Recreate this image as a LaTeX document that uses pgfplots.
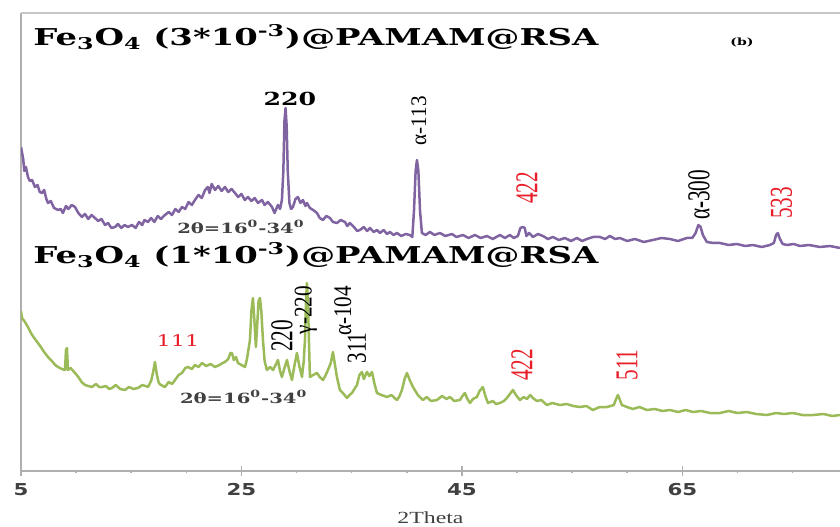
\documentclass[border=0pt]{standalone}
\usepackage{fontspec}
\setmainfont{Liberation Serif}
\newfontfamily\titlefont{DejaVu Serif}[FakeStretch=1.46]
\newfontfamily\smallfont{DejaVu Serif}[FakeStretch=1.4]
\newfontfamily\tickfont{DejaVu Sans}[FakeStretch=1.3]
\newfontfamily\xlabfont{Liberation Serif}[FakeStretch=1.4]
\usepackage{pgfplots}
\pgfplotsset{compat=1.18}
\definecolor{xpurple}{RGB}{128,100,162}
\definecolor{xgreen}{RGB}{155,187,89}
\definecolor{xred}{RGB}{232,30,40}
\definecolor{axgray}{RGB}{175,175,175}
\definecolor{txtgray}{RGB}{64,64,64}
\newcommand{\rlab}[2]{\rotatebox{90}{\scalebox{1}[#1]{#2}}}
\begin{document}
\begin{tikzpicture}
\begin{axis}[
  at={(10.5pt,27.5pt)}, anchor=south west,
  scale only axis, width=409.5pt, height=229pt,
  xmin=5, xmax=79.3, ymin=0, ymax=458,
  axis x line*=bottom, axis y line*=left,
  axis line style={-, axgray, line width=0.8pt},
  ytick=\empty,
  xtick={5,25,45,65},
  minor xtick={10,15,20,30,35,40,50,55,60,70,75},
  tick align=center,
  major tick length=5pt, minor tick length=1.5pt,
  tick style={axgray, line width=0.8pt},
  /pgf/number format/assume math mode=true,
  xticklabel style={font=\tickfont\bfseries\fontsize{8.2}{9}\selectfont, text=txtgray},
  xlabel={2Theta},
  xlabel style={font=\xlabfont\fontsize{8.5}{10}\selectfont, text=txtgray, yshift=-1pt},
]
\draw[axgray!70, line width=1pt] (rel axis cs:0,1) -- (rel axis cs:1,1);
\addplot[xpurple, line width=1.25pt, line join=round] coordinates {
(5.0,324)(5.1,318)(5.2,312)(5.3,300)(5.45,304)(5.63,294)(5.8,290)(6.0,291)(6.27,284)(6.5,286)(6.7,279)(6.9,278)(7.1,281)(7.3,272)(7.45,268)(7.7,270)(8.0,263)(8.36,261)(8.6,262)(8.8,258)(9.08,265)(9.3,262)(9.6,266)(9.9,264)(10.2,258)(10.53,254)(10.8,257)(11.1,252)(11.4,256)(11.71,253)(12.0,250)(12.3,252)(12.62,246)(12.9,248)(13.2,243)(13.53,244)(13.8,247)(14.1,243)(14.4,246)(14.7,244)(15.07,246)(15.4,243)(15.7,249)(16.0,246)(16.2,251)(16.52,249)(16.8,253)(17.1,249)(17.4,255)(17.7,252)(18.06,256)(18.4,259)(18.7,256)(19.0,262)(19.3,259)(19.6,264)(19.9,262)(20.2,269)(20.5,266)(20.78,271)(21.1,276)(21.4,273)(21.7,281)(21.96,284)(22.1,278)(22.3,287)(22.6,281)(22.9,285)(23.2,280)(23.5,284)(23.8,279)(24.1,282)(24.41,278)(24.7,274)(25.0,277)(25.3,271)(25.59,274)(25.9,270)(26.2,273)(26.5,268)(26.86,271)(27.1,266)(27.4,269)(27.77,264)(28.0,258)(28.31,266)(28.5,262)(28.67,271)(28.8,300)(28.9,350)(29.0,363)(29.1,345)(29.2,300)(29.35,268)(29.5,262)(29.67,264)(29.9,272)(30.12,274)(30.35,268)(30.58,271)(30.8,265)(30.94,268)(31.21,263)(31.5,261)(31.85,258)(32.1,253)(32.39,251)(32.7,255)(33.03,253)(33.3,249)(33.66,248)(34.0,251)(34.39,249)(34.6,245)(34.84,248)(35.2,244)(35.5,240)(35.75,241)(36.1,244)(36.4,240)(36.66,243)(37.0,239)(37.3,241)(37.56,238)(37.9,241)(38.2,237)(38.47,239)(38.8,236)(39.1,238)(39.5,235)(39.9,237)(40.28,236)(40.5,234)(40.65,260)(40.8,300)(40.92,311)(41.05,300)(41.2,260)(41.37,238)(41.7,236)(42.1,239)(42.5,236)(43.0,238)(43.5,235)(44.09,237)(44.5,234)(45.09,236)(45.6,233)(46.18,236)(46.7,233)(47.27,235)(47.8,232)(48.45,236)(48.9,233)(49.35,236)(49.7,233)(50.08,235)(50.3,243)(50.53,244)(50.7,243)(50.85,235)(51.1,238)(51.44,234)(51.9,237)(52.35,235)(52.8,232)(53.25,234)(53.8,231)(54.34,233)(54.9,230)(55.43,233)(55.9,230)(56.34,232)(56.9,234)(57.52,234)(58.0,232)(58.42,235)(58.9,232)(59.33,233)(60.0,230)(60.69,232)(61.5,229)(62.32,231)(63.1,233)(63.87,232)(64.6,230)(65.41,233)(65.9,233)(66.2,238)(66.45,246)(66.65,244)(66.86,236)(67.22,229)(67.8,228)(68.4,228)(69.2,226)(69.94,227)(70.7,225)(71.39,226)(72.2,224)(72.94,226)(73.3,228)(73.5,236)(73.66,238)(73.85,232)(74.1,227)(74.48,226)(75.1,227)(75.66,225)(76.5,226)(77.47,224)(78.4,225)(79.29,223)
};
\addplot[xgreen, line width=1.25pt, line join=round] coordinates {
(5.0,160)(5.09,153)(5.3,150)(5.63,144)(5.9,138)(6.2,133)(6.54,128)(6.8,124)(7.1,119)(7.45,114)(7.8,110)(8.1,106)(8.36,104)(8.7,102)(8.99,101)(9.08,121)(9.17,123)(9.26,101)(9.5,103)(9.9,98)(10.2,94)(10.5,89)(10.8,86)(11.1,85)(11.44,84)(11.8,87)(12.1,84)(12.35,84)(12.7,85)(13.0,82)(13.25,83)(13.6,86)(14.0,82)(14.43,81)(14.8,84)(15.2,82)(15.61,83)(16.0,86)(16.3,85)(16.52,84)(16.8,90)(16.97,98)(17.15,109)(17.33,96)(17.5,88)(17.7,86)(18.06,84)(18.4,89)(18.7,87)(18.97,91)(19.3,96)(19.6,98)(19.9,103)(20.15,104)(20.5,102)(20.78,106)(21.1,104)(21.42,108)(21.8,105)(22.2,107)(22.6,104)(23.0,106)(23.3,108)(23.5,109)(23.8,112)(24.0,118)(24.14,118)(24.3,111)(24.5,114)(24.68,108)(25.0,106)(25.32,104)(25.5,112)(25.77,131)(25.9,160)(26.04,173)(26.15,155)(26.31,124)(26.45,150)(26.55,170)(26.68,173)(26.8,160)(26.95,131)(27.1,110)(27.31,101)(27.6,104)(27.86,101)(28.1,106)(28.31,111)(28.5,100)(28.67,94)(28.9,103)(29.13,111)(29.35,100)(29.58,91)(29.8,105)(30.03,118)(30.25,105)(30.49,94)(30.65,110)(30.76,131)(30.85,170)(30.94,188)(31.03,170)(31.12,131)(31.21,94)(31.5,96)(31.85,98)(32.1,94)(32.39,91)(32.6,95)(32.85,101)(33.1,108)(33.3,119)(33.5,105)(33.66,94)(33.93,81)(34.2,78)(34.57,73)(34.8,76)(35.02,78)(35.25,82)(35.48,86)(35.7,96)(35.93,99)(36.1,92)(36.38,99)(36.6,95)(36.84,99)(37.05,88)(37.29,78)(37.7,76)(38.2,74)(38.6,76)(39.1,71)(39.3,74)(39.56,81)(39.8,92)(40.01,98)(40.3,90)(40.56,84)(41.0,76)(41.46,71)(41.8,74)(42.2,70)(42.73,71)(43.2,75)(43.6,72)(43.91,74)(44.3,70)(44.82,71)(45.05,75)(45.27,78)(45.5,72)(45.73,68)(46.0,72)(46.36,74)(46.6,80)(46.9,84)(47.1,76)(47.36,68)(47.8,70)(48.1,67)(48.45,68)(48.8,70)(49.08,73)(49.35,77)(49.63,81)(49.9,76)(50.26,71)(50.6,74)(50.9,72)(51.2,76)(51.44,73)(51.8,70)(52.2,71)(52.71,66)(53.2,68)(53.89,66)(54.5,67)(55.1,65)(55.7,64)(56.3,65)(56.88,61)(57.5,64)(58.15,64)(58.5,65)(58.78,66)(58.95,71)(59.15,76)(59.3,72)(59.51,66)(59.97,64)(60.5,62)(61.1,64)(61.78,61)(62.5,62)(63.2,60)(63.87,61)(64.6,59)(65.3,61)(65.95,59)(66.7,60)(67.5,58)(68.4,58)(69.2,60)(70.0,58)(70.85,59)(71.7,57)(72.67,56)(73.5,58)(74.2,57)(75.02,58)(75.9,56)(76.84,56)(77.8,57)(78.6,55)(79.29,56)
};
% titles
\node[font=\titlefont\bfseries\fontsize{11.6}{13}\selectfont, anchor=west, inner sep=0pt] at (axis cs:6.09,434) {Fe\textsubscript{3}O\textsubscript{4} (3*10\textsuperscript{-3})@PAMAM@RSA};
\node[font=\titlefont\bfseries\fontsize{11.6}{13}\selectfont, anchor=west, inner sep=0pt] at (axis cs:6.09,216) {Fe\textsubscript{3}O\textsubscript{4} (1*10\textsuperscript{-3})@PAMAM@RSA};
\node[font=\smallfont\bfseries\fontsize{5}{6}\selectfont, inner sep=0pt] at (axis cs:70.4,429) {(b)};
% purple annotations
\node[font=\smallfont\bfseries\fontsize{9}{10}\selectfont, inner sep=0pt] at (axis cs:29.4,372) {220};
\node[font=\fontsize{10.6}{12}\selectfont, inner sep=0pt] at (axis cs:41.1,350) {\rlab{1.05}{α-113}};
\node[font=\fontsize{10.6}{12}\selectfont, text=xred, inner sep=0pt] at (axis cs:50.9,283) {\rlab{1.5}{422}};
\node[font=\fontsize{10.6}{12}\selectfont, inner sep=0pt] at (axis cs:66.5,276) {\rlab{1.5}{α-300}};
\node[font=\fontsize{10.6}{12}\selectfont, text=xred, inner sep=0pt] at (axis cs:74.0,268) {\rlab{1.5}{533}};
\node[font=\smallfont\bfseries\fontsize{7}{8}\selectfont, text=txtgray, inner sep=0pt] at (axis cs:24.95,244) {2θ=16\textsuperscript{0}-34\textsuperscript{0}};
% green annotations
\node[font=\smallfont\fontsize{8}{9}\selectfont, text=xred, inner sep=0pt] at (axis cs:19.24,130) {111};
\node[font=\fontsize{10.6}{12}\selectfont, inner sep=0pt] at (axis cs:28.67,135) {\rlab{1.5}{220}};
\node[font=\fontsize{10.6}{12}\selectfont, inner sep=0pt] at (axis cs:30.85,161) {\rlab{1.2}{γ-220}};
\node[font=\fontsize{10.6}{12}\selectfont, inner sep=0pt] at (axis cs:34.2,160) {\rlab{1.2}{α-104}};
\node[font=\fontsize{10.6}{12}\selectfont, inner sep=0pt] at (axis cs:35.48,123) {\rlab{1.3}{311}};
\node[font=\fontsize{10.6}{12}\selectfont, text=xred, inner sep=0pt] at (axis cs:50.44,106) {\rlab{1.5}{422}};
\node[font=\fontsize{10.6}{12}\selectfont, text=xred, inner sep=0pt] at (axis cs:59.97,106) {\rlab{1.5}{511}};
\node[font=\smallfont\bfseries\fontsize{7}{8}\selectfont, text=txtgray, inner sep=0pt] at (axis cs:25.2,74) {2θ=16\textsuperscript{0}-34\textsuperscript{0}};
\end{axis}
\pgfresetboundingbox
\useasboundingbox (0,0) rectangle (420pt,263pt);
\end{tikzpicture}
\end{document}
